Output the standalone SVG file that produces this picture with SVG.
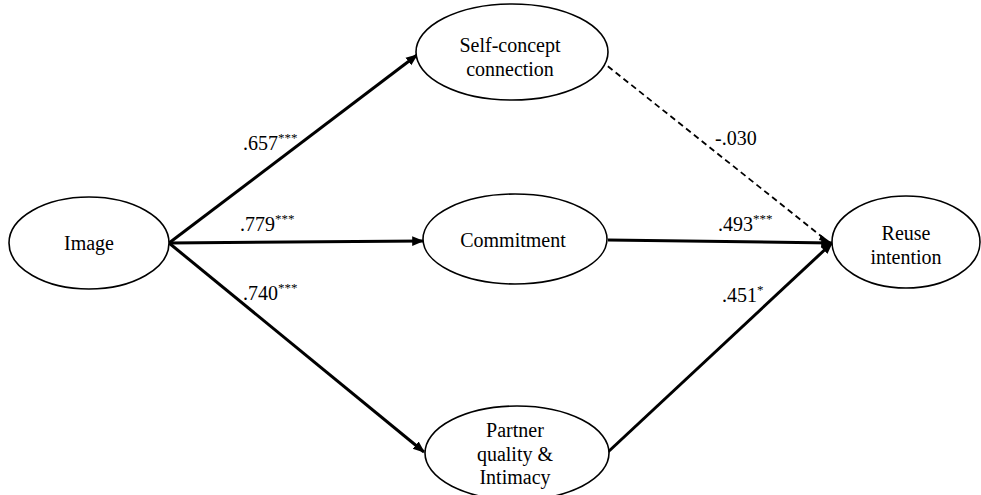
<svg xmlns="http://www.w3.org/2000/svg" width="981" height="495" viewBox="0 0 981 495">
<defs>
<marker id="ah" viewBox="0 0 10 10" refX="9" refY="5" markerWidth="4" markerHeight="4" orient="auto" markerUnits="strokeWidth">
<path d="M0,1 L10,5 L0,9 Z" fill="#000"/>
</marker>
</defs>
<rect width="981" height="495" fill="#fff"/>
<g id="connectors" stroke="#000" fill="none">
<g stroke-width="3" marker-end="url(#ah)">
<line x1="169" y1="243" x2="417" y2="55"/>
<line x1="169" y1="243" x2="423" y2="241"/>
<line x1="169" y1="243" x2="424" y2="452"/>
<line x1="608" y1="240" x2="832" y2="243"/>
<line x1="608" y1="452" x2="832" y2="243"/>
</g>
<line x1="600" y1="60" x2="826" y2="240" stroke-width="1.8" stroke-dasharray="6,4"/>
<path d="M821,235 L832,243 L819,240 Z" fill="#000" stroke="none"/>
</g>
<g id="labels" font-family="Liberation Serif, serif" font-size="20" fill="#000">
<text x="243" y="150">.657<tspan font-size="13" dy="-8">***</tspan></text>
<text x="240" y="231">.779<tspan font-size="13" dy="-8">***</tspan></text>
<text x="243" y="300">.740<tspan font-size="13" dy="-8">***</tspan></text>
<text x="715" y="145">-.030</text>
<text x="718" y="231">.493<tspan font-size="13" dy="-8">***</tspan></text>
<text x="722" y="302">.451<tspan font-size="13" dy="-8">*</tspan></text>
</g>
<g id="nodes" font-family="Liberation Serif, serif" font-size="20" text-anchor="middle" fill="#000">
<g id="image">
<ellipse cx="89" cy="243" rx="80" ry="46" fill="#fff" stroke="#000" stroke-width="1.6"/>
<text x="89" y="250">Image</text>
</g>
<g id="self-concept">
<ellipse cx="512" cy="52" rx="96" ry="48" fill="#fff" stroke="#000" stroke-width="1.6"/>
<text x="510" y="52">Self-concept</text>
<text x="510" y="76">connection</text>
</g>
<g id="commitment">
<ellipse cx="515" cy="239" rx="92" ry="45" fill="#fff" stroke="#000" stroke-width="1.6"/>
<text x="513" y="247">Commitment</text>
</g>
<g id="partner">
<ellipse cx="517" cy="453" rx="92" ry="47" fill="#fff" stroke="#000" stroke-width="1.6"/>
<text x="515" y="437">Partner</text>
<text x="515" y="461">quality &amp;</text>
<text x="515" y="484">Intimacy</text>
</g>
<g id="reuse">
<ellipse cx="906" cy="242" rx="74" ry="46" fill="#fff" stroke="#000" stroke-width="1.6"/>
<text x="906" y="240">Reuse</text>
<text x="906" y="264">intention</text>
</g>
</g>
</svg>
